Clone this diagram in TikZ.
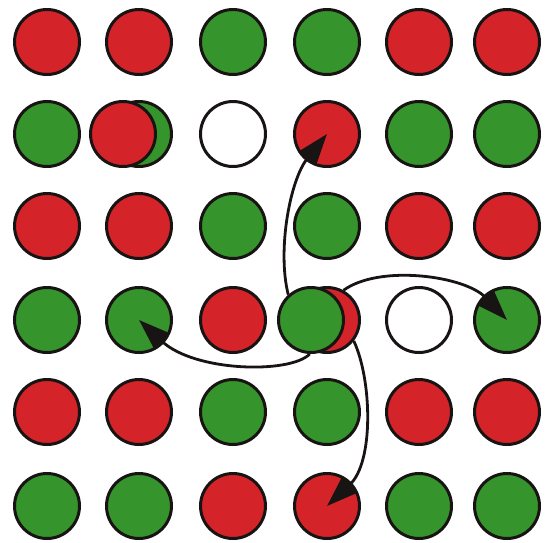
\documentclass[tikz,border=0pt]{standalone}
\usetikzlibrary{arrows.meta}
\definecolor{cred}{RGB}{212,36,42}
\definecolor{cgreen}{RGB}{54,148,44}
\definecolor{cline}{RGB}{25,20,20}
\begin{document}
\begin{tikzpicture}[x=1pt,y=-1pt,
  disc/.style={circle, draw=cline, line width=3pt, minimum size=65pt, inner sep=0pt},
  R/.style={disc, fill=cred}, G/.style={disc, fill=cgreen}, W/.style={disc, fill=white},
  arr/.style={draw=cline, line width=2.8pt, -{Triangle[length=32pt,width=22pt]}}]
\useasboundingbox (0,0) rectangle (555,542);
% row 1
\node[R] (c11) at (47,42) {};
\node[R] (c12) at (139,42) {};
\node[G] (c13) at (233,42) {};
\node[G] (c14) at (327,42) {};
\node[R] (c15) at (419,42) {};
\node[R] (c16) at (507,42) {};
% row 2
\node[G] (c21) at (47,134) {};
\node[G] (c22) at (139,134) {};
\node[R] (c22r) at (123,134) {};
\node[W] (c23) at (233,134) {};
\node[R] (c24) at (327,134) {};
\node[G] (c25) at (419,134) {};
\node[G] (c26) at (507,134) {};
% row 3
\node[R] (c31) at (47,226) {};
\node[R] (c32) at (139,226) {};
\node[G] (c33) at (233,226) {};
\node[G] (c34) at (327,226) {};
\node[R] (c35) at (419,226) {};
\node[R] (c36) at (507,226) {};
% row 4
\node[G] (c41) at (47,320) {};
\node[G] (c42) at (139,320) {};
\node[R] (c43) at (233,320) {};
\node[R] (c44r) at (327,320) {};
\node[G] (c44) at (311,320) {};
\node[W] (c45) at (419,320) {};
\node[G] (c46) at (507,320) {};
% row 5
\node[R] (c51) at (47,412) {};
\node[R] (c52) at (139,412) {};
\node[G] (c53) at (233,412) {};
\node[G] (c54) at (327,412) {};
\node[R] (c55) at (419,412) {};
\node[R] (c56) at (507,412) {};
% row 6
\node[G] (c61) at (47,506) {};
\node[G] (c62) at (139,506) {};
\node[R] (c63) at (233,506) {};
\node[R] (c64) at (327,506) {};
\node[G] (c65) at (419,506) {};
\node[G] (c66) at (507,506) {};
% arrows
\draw[arr] (c44.132) .. controls (277,250) and (290,180) .. (c24.center);
\draw[arr] (c44r.61) .. controls (380,264) and (465,276) .. (c46.center);
\draw[arr] (c44.268) .. controls (290,374) and (195,372) .. (c42.center);
\draw[arr] (c44r.322) .. controls (372,380) and (374,462) .. (c64.center);
\end{tikzpicture}
\end{document}
